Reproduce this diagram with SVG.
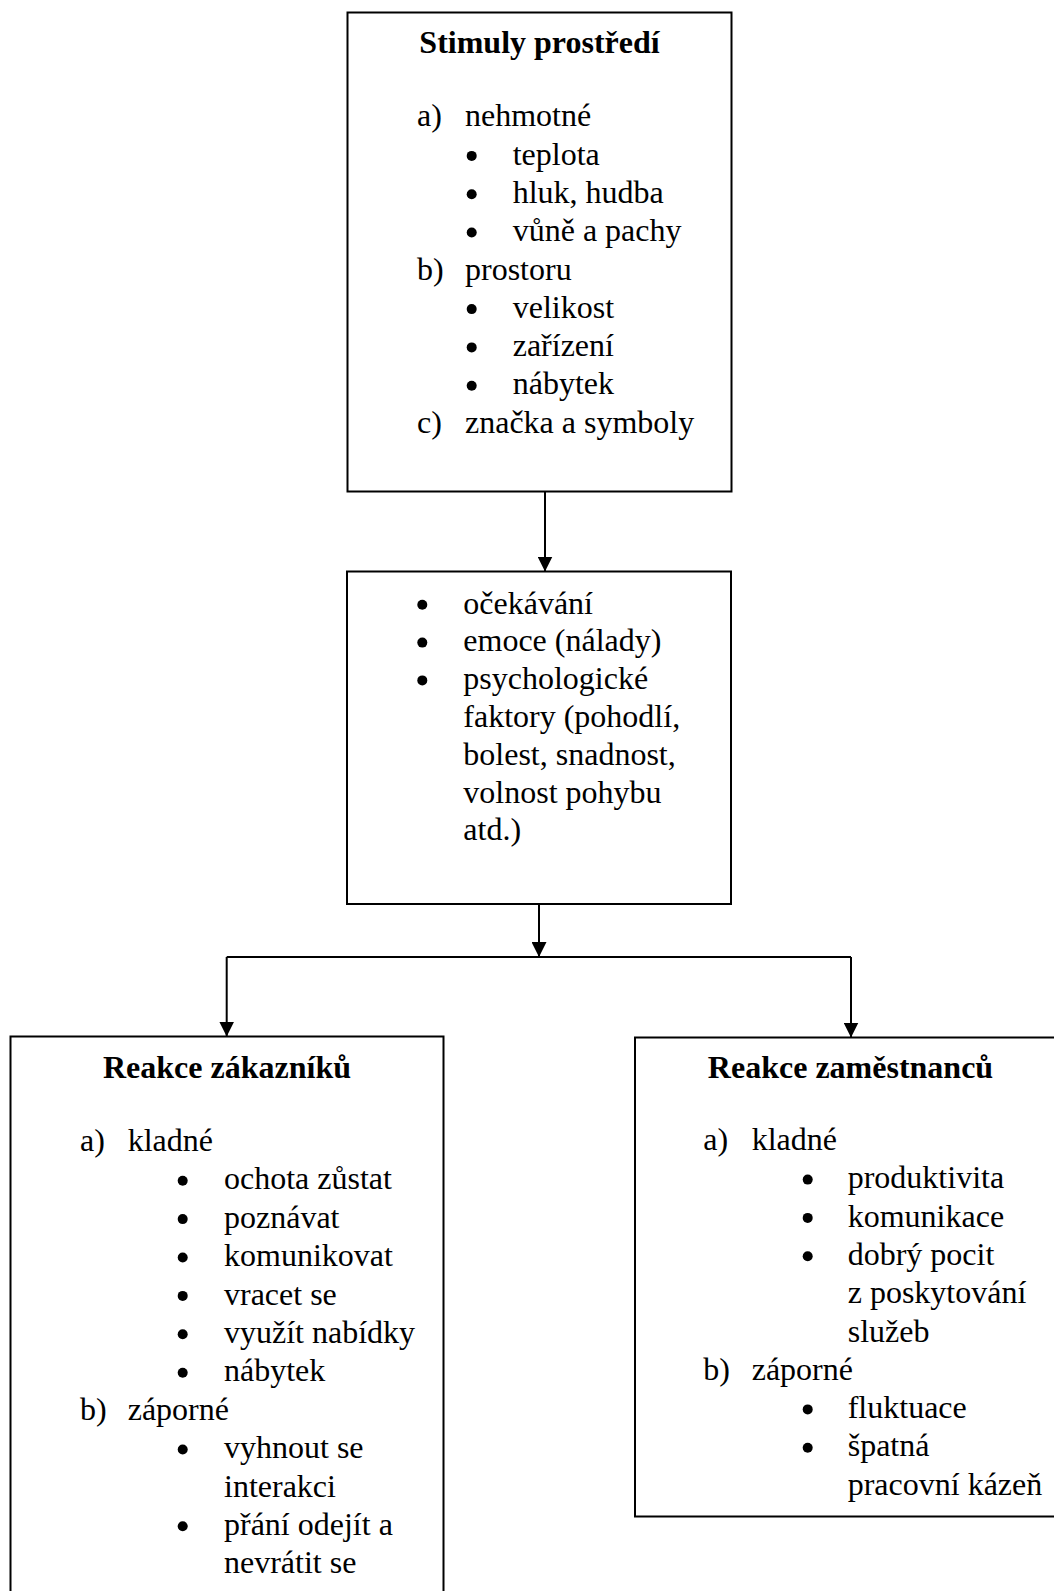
<svg xmlns="http://www.w3.org/2000/svg" width="1054" height="1591" viewBox="0 0 1054 1591">
<style>
.box{fill:#fff;stroke:#000;stroke-width:2}
.t{font-family:"Liberation Serif","Times New Roman",serif;font-size:32px;fill:#000}
.h{font-weight:bold;text-anchor:middle}
.conn{stroke:#000;stroke-width:2;fill:none}
.dot{fill:#000}
</style>
<defs>
<marker id="arr" markerUnits="userSpaceOnUse" markerWidth="15" markerHeight="15" refX="15" refY="7.5" orient="auto">
<path d="M0,0 L15,7.5 L0,15 Z" fill="#000"/>
</marker>
</defs>
<rect width="1054" height="1591" fill="#fff"/>
<g id="connectors">
<path class="conn" d="M545,492 V571.5" marker-end="url(#arr)"/>
<path class="conn" d="M539,904 V957" marker-end="url(#arr)"/>
<path class="conn" d="M226.7,957 H851"/>
<path class="conn" d="M226.7,957 V1036.5" marker-end="url(#arr)"/>
<path class="conn" d="M851,957 V1037.5" marker-end="url(#arr)"/>
</g>
<g id="stimuly">
<rect class="box" x="347.5" y="12.5" width="384" height="479"/>
<text class="t h" x="539.5" y="53">Stimuly prostředí</text>
<text class="t" x="417" y="126.3">a)</text>
<text class="t" x="465" y="126.3">nehmotné</text>
<circle class="dot" cx="471.7" cy="155.9" r="5"/><text class="t" x="512.7" y="164.6">teplota</text>
<circle class="dot" cx="471.7" cy="194.2" r="5"/><text class="t" x="512.7" y="202.9">hluk, hudba</text>
<circle class="dot" cx="471.7" cy="232.5" r="5"/><text class="t" x="512.7" y="241.2">vůně a pachy</text>
<text class="t" x="417" y="279.5">b)</text>
<text class="t" x="465" y="279.5">prostoru</text>
<circle class="dot" cx="471.7" cy="309.1" r="5"/><text class="t" x="512.7" y="317.8">velikost</text>
<circle class="dot" cx="471.7" cy="347.4" r="5"/><text class="t" x="512.7" y="356.1">zařízení</text>
<circle class="dot" cx="471.7" cy="385.7" r="5"/><text class="t" x="512.7" y="394.4">nábytek</text>
<text class="t" x="417" y="432.7">c)</text>
<text class="t" x="465" y="432.7">značka a symboly</text>
</g>
<g id="vnimani">
<rect class="box" x="347" y="571.5" width="384" height="332.5"/>
<circle class="dot" cx="422.3" cy="604.8" r="5"/><text class="t" x="463.3" y="613.5">očekávání</text>
<circle class="dot" cx="422.3" cy="642.6" r="5"/><text class="t" x="463.3" y="651.3">emoce (nálady)</text>
<circle class="dot" cx="422.3" cy="680.4" r="5"/><text class="t" x="463.3" y="689.1">psychologické</text>
<text class="t" x="463.3" y="726.9">faktory (pohodlí,</text>
<text class="t" x="463.3" y="764.7">bolest, snadnost,</text>
<text class="t" x="463.3" y="802.5">volnost pohybu</text>
<text class="t" x="463.3" y="840.3">atd.)</text>
</g>
<g id="zakaznici">
<rect class="box" x="10.5" y="1036.5" width="433" height="600"/>
<text class="t h" x="227" y="1078">Reakce zákazníků</text>
<text class="t" x="80" y="1151">a)</text>
<text class="t" x="127.7" y="1151">kladné</text>
<circle class="dot" cx="182.7" cy="1180.7" r="5"/><text class="t" x="224" y="1189.4">ochota zůstat</text>
<circle class="dot" cx="182.7" cy="1219.1" r="5"/><text class="t" x="224" y="1227.8">poznávat</text>
<circle class="dot" cx="182.7" cy="1257.5" r="5"/><text class="t" x="224" y="1266.2">komunikovat</text>
<circle class="dot" cx="182.7" cy="1295.9" r="5"/><text class="t" x="224" y="1304.6">vracet se</text>
<circle class="dot" cx="182.7" cy="1334.3" r="5"/><text class="t" x="224" y="1343">využít nabídky</text>
<circle class="dot" cx="182.7" cy="1372.7" r="5"/><text class="t" x="224" y="1381.4">nábytek</text>
<text class="t" x="80" y="1419.8">b)</text>
<text class="t" x="127.7" y="1419.8">záporné</text>
<circle class="dot" cx="182.7" cy="1449.5" r="5"/><text class="t" x="224" y="1458.2">vyhnout se</text>
<text class="t" x="224" y="1496.6">interakci</text>
<circle class="dot" cx="182.7" cy="1526.3" r="5"/><text class="t" x="224" y="1535">přání odejít a</text>
<text class="t" x="224" y="1573.4">nevrátit se</text>
</g>
<g id="zamestnanci">
<rect class="box" x="635" y="1037.5" width="440" height="479"/>
<text class="t h" x="850.5" y="1077.5">Reakce zaměstnanců</text>
<text class="t" x="703.3" y="1150">a)</text>
<text class="t" x="751.7" y="1150">kladné</text>
<circle class="dot" cx="807.7" cy="1179.6" r="5"/><text class="t" x="847.7" y="1188.3">produktivita</text>
<circle class="dot" cx="807.7" cy="1217.9" r="5"/><text class="t" x="847.7" y="1226.6">komunikace</text>
<circle class="dot" cx="807.7" cy="1256.2" r="5"/><text class="t" x="847.7" y="1264.9">dobrý pocit</text>
<text class="t" x="847.7" y="1303.2">z poskytování</text>
<text class="t" x="847.7" y="1341.5">služeb</text>
<text class="t" x="703.3" y="1379.8">b)</text>
<text class="t" x="751.7" y="1379.8">záporné</text>
<circle class="dot" cx="807.7" cy="1409.4" r="5"/><text class="t" x="847.7" y="1418.1">fluktuace</text>
<circle class="dot" cx="807.7" cy="1447.7" r="5"/><text class="t" x="847.7" y="1456.4">špatná</text>
<text class="t" x="847.7" y="1494.7">pracovní kázeň</text>
</g>
</svg>
